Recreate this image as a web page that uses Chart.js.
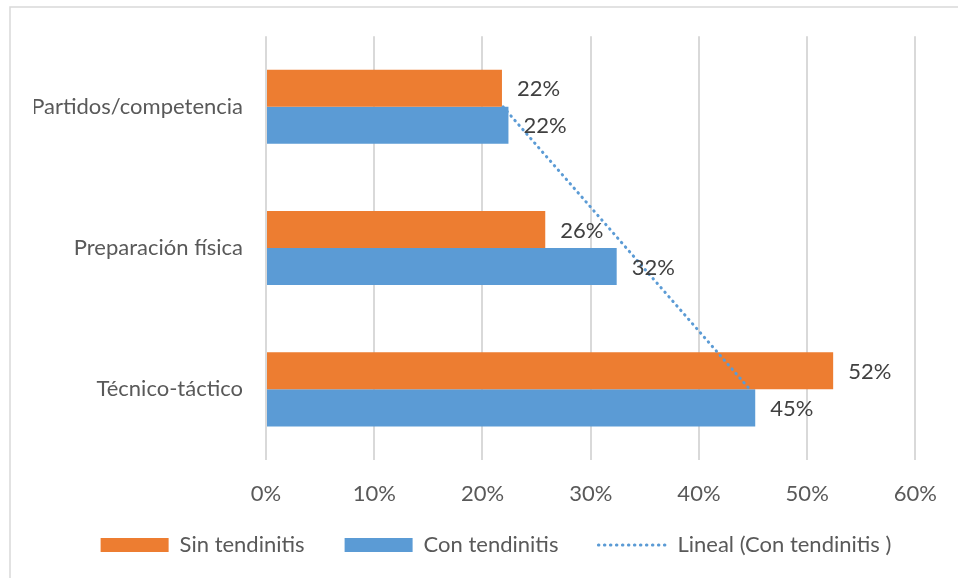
<!DOCTYPE html>
<html>
<head>
<meta charset="utf-8">
<script src="https://cdn.jsdelivr.net/npm/chart.js@4.4.1/dist/chart.umd.min.js"></script>
<style>
  html, body { margin: 0; padding: 0; background: #fff; }
  #wrap { width: 958px; height: 578px; position: relative; }
</style>
</head>
<body>
<div id="wrap"><canvas id="chart"></canvas></div>
<script>
"use strict";

// categories (top to bottom)
const categories = ["Partidos/competencia", "Preparación física", "Técnico-táctico"];
// series values, percent
const sinTendinitis = [21.8, 25.8, 52.4];
const conTendinitis = [22.4, 32.4, 45.2];
// Excel linear trendline over "Con tendinitis"
const linealCon = [21.9, 33.3, 44.7];
const xTicks = [0, 10, 20, 30, 40, 50, 60];

const ORANGE = "#ED7D31";
const BLUE = "#5B9BD5";
const FONT = "Lato, 'Open Sans', sans-serif";
const FS = 22;

// frame around the chart (cut by the right / bottom edge of the shot)
const framePlugin = {
  id: "frame",
  beforeDraw(chart) {
    const ctx = chart.ctx;
    ctx.save();
    ctx.fillStyle = "#fff";
    ctx.fillRect(0, 0, chart.width, chart.height);
    ctx.strokeStyle = "#d9d9d9";
    ctx.lineWidth = 1.5;
    ctx.beginPath();
    ctx.moveTo(10, chart.height);
    ctx.lineTo(10, 7);
    ctx.lineTo(chart.width, 7);
    ctx.stroke();
    ctx.restore();
  },
};

// value labels at the end of each bar
const barLabels = {
  id: "barLabels",
  afterDatasetsDraw(chart) {
    const ctx = chart.ctx;
    ctx.save();
    ctx.font = `${FS}px ${FONT}`;
    ctx.fillStyle = "#404040";
    ctx.textAlign = "left";
    ctx.textBaseline = "middle";
    [0, 1].forEach((di) => {
      const meta = chart.getDatasetMeta(di);
      const data = chart.data.datasets[di].data;
      meta.data.forEach((bar, i) => {
        ctx.fillText(Math.round(data[i]) + "%", bar.x + 15, bar.y + 1);
      });
    });
    ctx.restore();
  },
};

new Chart(document.getElementById("chart"), {
  type: "bar",
  data: {
    labels: categories,
    datasets: [
      {
        label: "Sin tendinitis",
        data: sinTendinitis,
        backgroundColor: ORANGE,
        categoryPercentage: 0.524,
        barPercentage: 1,
        order: 1,
      },
      {
        label: "Con tendinitis",
        data: conTendinitis,
        backgroundColor: BLUE,
        categoryPercentage: 0.524,
        barPercentage: 1,
        order: 1,
      },
      {
        type: "line",
        label: "Lineal (Con tendinitis )",
        data: linealCon,
        indexAxis: "y",
        borderColor: BLUE,
        borderWidth: 3,
        borderDash: [0.5, 5.5],
        borderCapStyle: "round",
        pointRadius: 0,
        fill: false,
        order: 0,
      },
    ],
  },
  options: {
    indexAxis: "y",
    responsive: true,
    maintainAspectRatio: false,
    animation: false,
    layout: { padding: { left: 34, right: 0, top: 36, bottom: 12 } },
    scales: {
      x: {
        min: 0,
        max: 60,
        afterBuildTicks(scale) { scale.ticks = xTicks.map((v) => ({ value: v })); },
        afterFit(scale) {
          scale.height = 34;
          // the box is kept short for the legend; let the tick text spill below it
          scale._computeLabelArea = () => undefined;
        },
        grid: { color: "#d9d9d9", lineWidth: 2, drawTicks: false },
        border: { display: false },
        ticks: {
          padding: 21,
          color: "#595959",
          font: { family: FONT, size: FS },
          callback: (v) => v + "%",
        },
      },
      y: {
        afterFit(scale) { scale.width = 232; },
        grid: { display: false, drawTicks: false },
        border: { display: false },
        ticks: {
          padding: 23,
          color: "#595959",
          font: { family: FONT, size: FS },
        },
      },
      // empty spacer on the right so the plot ends at the 60% line
      yRight: {
        type: "linear",
        position: "right",
        afterFit(scale) { scale.width = 39; },
        grid: { display: false, drawTicks: false },
        border: { display: false },
        ticks: { display: false },
      },
    },
    plugins: {
      tooltip: { enabled: false },
      legend: {
        position: "bottom",
        labels: {
          color: "#595959",
          font: { family: FONT, size: FS },
          padding: 40,
          usePointStyle: true,
          pointStyleWidth: 68,
          boxHeight: 14,
          generateLabels: () => [
            { text: "Sin tendinitis", fillStyle: ORANGE, strokeStyle: ORANGE, lineWidth: 0, pointStyle: "rect", datasetIndex: 0, fontColor: "#595959" },
            { text: "Con tendinitis", fillStyle: BLUE, strokeStyle: BLUE, lineWidth: 0, pointStyle: "rect", datasetIndex: 1, fontColor: "#595959" },
            { text: "Lineal (Con tendinitis )", fillStyle: "rgba(0,0,0,0)", strokeStyle: BLUE, lineWidth: 3, lineDash: [0.5, 5.5], lineCap: "round", pointStyle: "line", datasetIndex: 2, fontColor: "#595959" },
          ],
        },
      },
    },
  },
  plugins: [framePlugin, barLabels],
});
</script>
</body>
</html>
